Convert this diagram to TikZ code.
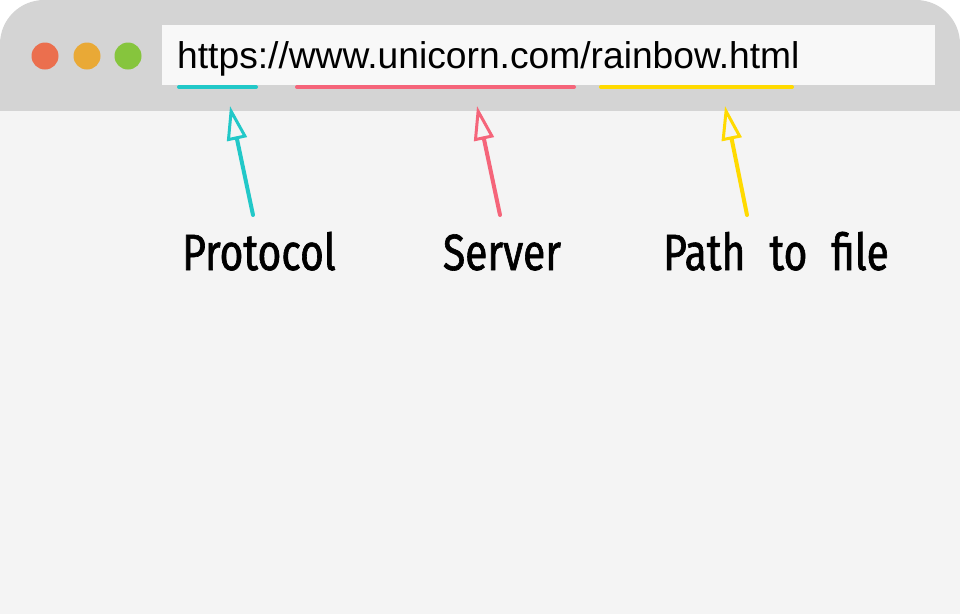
\documentclass[tikz,border=0pt]{standalone}
\usepackage{fontspec}
\setmainfont{Liberation Sans}
\newfontfamily\hand{Fira Sans}[FakeStretch=0.8,FakeBold=1.2]
\usetikzlibrary{arrows.meta}
\definecolor{barcol}{HTML}{D4D4D4}
\definecolor{bodycol}{HTML}{F4F4F4}
\definecolor{addrcol}{HTML}{F8F8F8}
\definecolor{dotred}{HTML}{EB6F4E}
\definecolor{dotorange}{HTML}{E9A936}
\definecolor{dotgreen}{HTML}{86C53D}
\definecolor{cyanc}{HTML}{22C8C8}
\definecolor{pinkc}{HTML}{F5657A}
\definecolor{yellowc}{HTML}{FFDA00}
\begin{document}
\begin{tikzpicture}[x=1pt,y=-1pt,
  uline/.style={line width=4pt,line cap=round},
  pointer/.style={line width=4pt,line cap=round,
    -{Triangle[open,length=34pt,width=20pt,line width=3pt]}},
  lbl/.style={inner sep=0pt,anchor=base,font=\hand\fontsize{51}{51}\selectfont}]
\useasboundingbox (0,0) rectangle (960,614);
% window
\fill[barcol,rounded corners=44pt] (0,0) rectangle (960,220);
\fill[bodycol] (0,111) rectangle (960,614);
% address bar
\fill[addrcol] (162,25) rectangle (935,85);
% dots
\fill[dotred] (45,56) circle (13.5);
\fill[dotorange] (87,56) circle (13.5);
\fill[dotgreen] (128,56) circle (13.5);
% url
\node[inner sep=0pt,anchor=base west,font=\fontsize{37.2}{37}\selectfont] (url) at (177,68) {https://www.unicorn.com/rainbow.html};
% underlines
\coordinate (c1) at (179,87); \coordinate (c2) at (256,87);
\coordinate (p1) at (297,87); \coordinate (p2) at (574,87);
\coordinate (y1) at (601,87); \coordinate (y2) at (792,87);
\draw[uline,cyanc] (c1) -- (c2);
\draw[uline,pinkc] (p1) -- (p2);
\draw[uline,yellowc] (y1) -- (y2);
% labels
\node[lbl] (proto) at (259,270) {Protocol};
\node[lbl] (server) at (502,270) {Server};
\node[lbl] (path) at (776,270) {Path\hspace{24pt}to\hspace{24pt}file};
% arrows
\coordinate (ct) at (253,215); \coordinate (ch) at (230,106);
\coordinate (pt) at (500,215); \coordinate (ph) at (477,106);
\coordinate (yt) at (747,215); \coordinate (yh) at (725,106);
\draw[pointer,cyanc] (ct) -- (ch);
\draw[pointer,pinkc] (pt) -- (ph);
\draw[pointer,yellowc] (yt) -- (yh);
\end{tikzpicture}
\end{document}
